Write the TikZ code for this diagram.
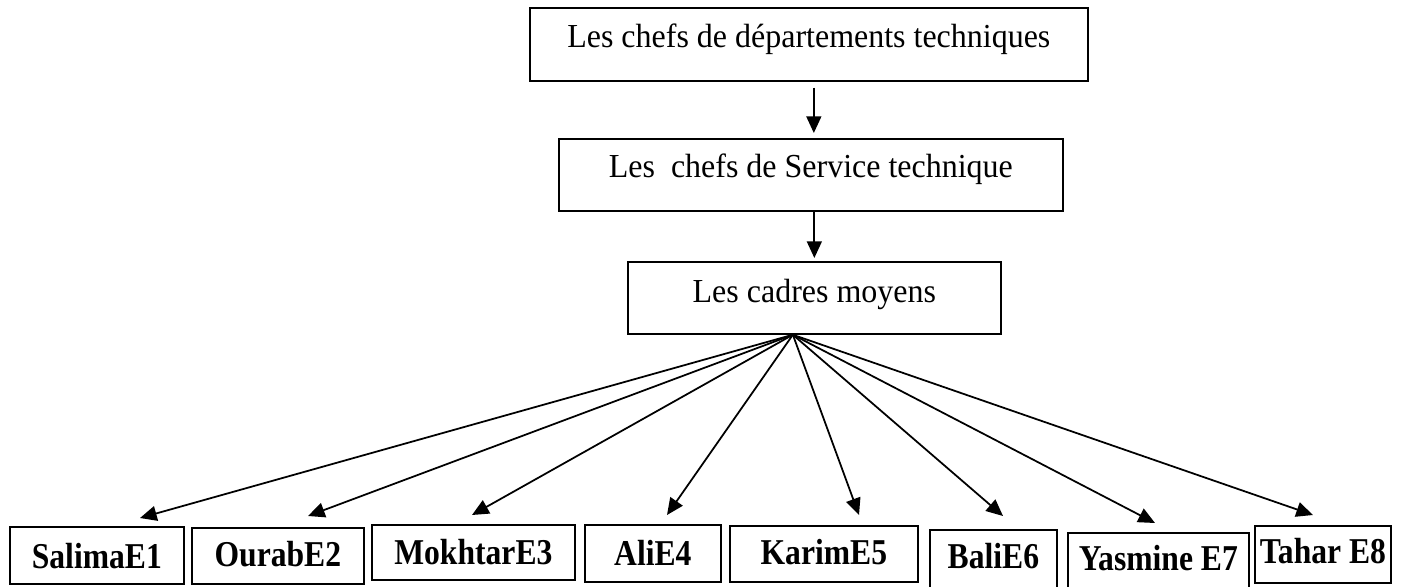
\documentclass[tikz,border=0pt]{standalone}
\usepackage{fontspec}
\setmainfont{Liberation Serif}
\usetikzlibrary{arrows.meta}

\begin{document}
\begin{tikzpicture}[x=0.02cm, y=0.02cm,
    boite/.style={draw, line width=1pt, inner xsep=0pt, inner ysep=0pt, anchor=north west,
                  font=\fontsize{18.2}{21}\selectfont},
    employe/.style={boite, font=\fontsize{18}{21}\selectfont\bfseries},
    fleche/.style={line width=1pt, -{Triangle[length=9.5pt,width=8.5pt]}}]
      \useasboundingbox (0,0) rectangle (1402,586);
      \node (chefdep) at (529,579) [boite, minimum width=11.16cm, text height=0.80cm, text depth=0.66cm] {\scalebox{1}[1.05]{Les chefs de départements techniques}};
      \node (serv) at (558,448) [boite, minimum width=10.08cm, text height=0.78cm, text depth=0.66cm] {\scalebox{1}[1.05]{Les\ \ chefs de Service technique}};
      \node (cadres) at (627,325) [boite, minimum width=7.46cm, text height=0.82cm, text depth=0.62cm] {\scalebox{1}[1.05]{Les cadres moyens}};
      \draw[fleche, shorten <=0.12cm, shorten >=0.1cm] ([xshift=0.06cm]serv.north |- chefdep.south) to ([xshift=0.06cm]serv.north);
      \draw[fleche, shorten >=0.06cm] (serv.south -| cadres.north) to (cadres.north);
      \coordinate (fan) at ([xshift=-0.43cm]cadres.south);
      \foreach \i/\nom/\x/\y/\w/\h/\d in {1/SalimaE1/9/60/3.48/0.84/0.30,
                                         2/OurabE2/191/59/3.44/0.78/0.34,
                                         3/MokhtarE3/371/62/4.06/0.80/0.30,
                                         4/AliE4/584/62/2.72/0.82/0.32,
                                         5/KarimE5/729/61/3.76/0.78/0.34,
                                         6/BaliE6/929/57/2.54/0.78/0.44,
                                         7/Yasmine E7/1067/54/3.62/0.76/0.40,
                                         8/Tahar E8/1254/61/2.72/0.76/0.38}
               {
                 \node (e\i) at (\x,\y) [employe, minimum width=\w cm, text height=\h cm, text depth=\d cm] {\scalebox{1}[1.15]{\nom}};
               }
      \foreach \i/\x/\y in {1/140/68, 2/308/70, 3/472/71, 4/667/71,
                            5/859/71, 6/1003/70, 7/1155/63, 8/1313/71}
               {
                 \coordinate (p\i) at (\x,\y);
                 \draw[fleche] (fan) to (p\i);
               }
\end{tikzpicture}
\end{document}
